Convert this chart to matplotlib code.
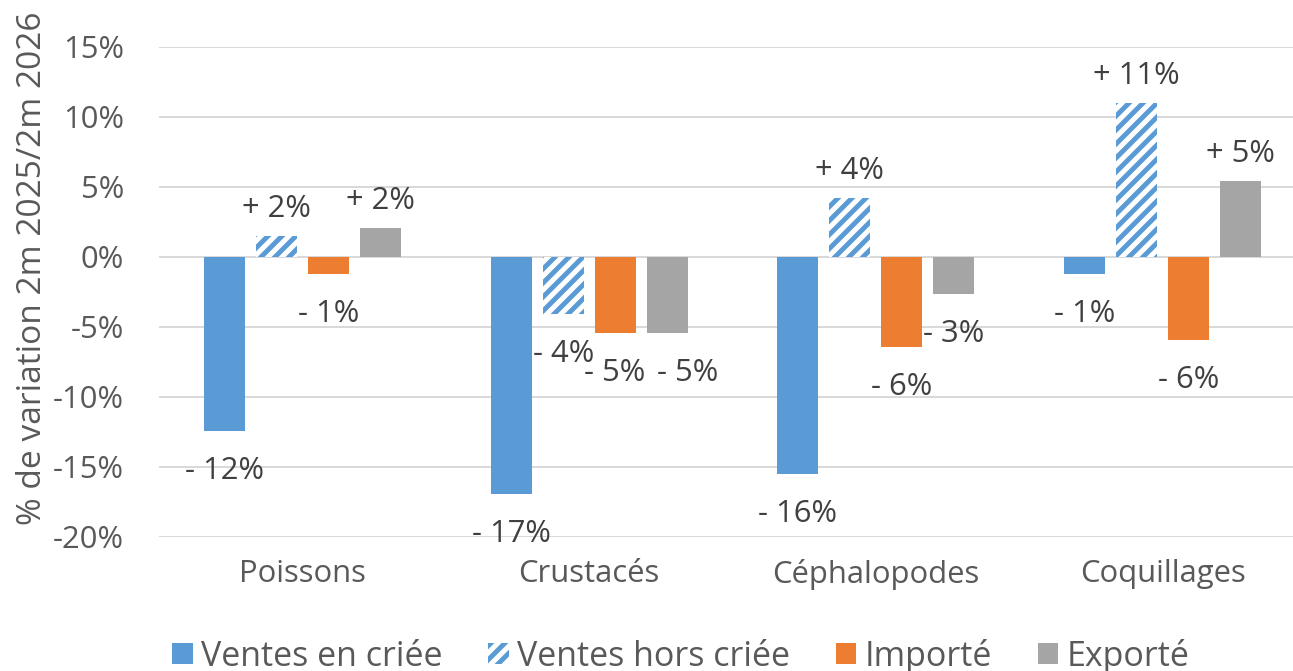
import matplotlib
matplotlib.use("Agg")
import matplotlib.pyplot as plt
from matplotlib.patches import Patch
import numpy as np

categories = ["Poissons", "Crustacés", "Céphalopodes", "Coquillages"]
series_names = ["Ventes en criée", "Ventes hors criée", "Importé", "Exporté"]
ventes_criee = [-12.4, -16.9, -15.5, -1.24]
ventes_hors_criee = [1.52, -4.07, 4.19, 10.98]
importe = [-1.24, -5.4, -6.45, -5.93]
exporte = [2.05, -5.45, -2.64, 5.45]
yticks = [-20, -15, -10, -5, 0, 5, 10, 15]
ylabel = "% de variation 2m 2025/2m 2026"

DPI = 84
W, H = 1293, 671
plt.rcParams['font.family'] = ['Open Sans', 'DejaVu Sans']
plt.rcParams['hatch.linewidth'] = 4.2

def px(v):
    return v * 72.0 / DPI

FS = px(31)
TXT = "#595959"
LBL = "#404040"
BLUE = "#5B9BD5"
ORANGE = "#ED7D31"
GREY = "#A5A5A5"

fig = plt.figure(figsize=(W / DPI, H / DPI), dpi=DPI)
ax = fig.add_axes([159 / W, 1 - 537 / H, (1306 - 159) / W, (537 - 47) / H])

x = np.arange(len(categories))
bw = 41 / 287
step = 52 / 287
data = [ventes_criee, ventes_hors_criee, importe, exporte]
styles = [
    dict(color=BLUE, linewidth=0),
    dict(facecolor="white", edgecolor=BLUE, hatch="//", linewidth=0),
    dict(color=ORANGE, linewidth=0),
    dict(color=GREY, linewidth=0),
]
# extra horizontal shift (px) for overlapping labels
label_dx = {(3, 1): 21}

for i, (vals, st) in enumerate(zip(data, styles)):
    pos = x + (i - 1.5) * step
    ax.bar(pos, vals, bw, zorder=3, **st)
    for j, (p, v) in enumerate(zip(pos, vals)):
        sign = "+" if v >= 0 else "-"
        txt = f"{sign} {abs(v):.0f}%"
        dy = 19 if v >= 0 else -48
        dx = label_dx.get((i, j), 0)
        ax.annotate(txt, (p, v), xytext=(dx, dy), textcoords="offset pixels",
                    ha="center", va="baseline", fontsize=FS, color=LBL, zorder=5)

ax.set_xlim(-0.5, len(categories) - 0.5)
ax.set_ylim(-20, 15)
ax.set_yticks(yticks)
ax.set_yticklabels([f"{t}%" for t in yticks])
ax.set_xticks(x)
ax.set_xticklabels(categories)
ax.tick_params(axis="y", length=0, pad=px(35), labelsize=FS, labelcolor=TXT)
ax.tick_params(axis="x", length=0, pad=px(22), labelsize=FS, labelcolor=TXT)
ax.grid(axis="y", color="#D9D9D9", linewidth=px(2), zorder=0)
ax.set_axisbelow(True)
for s in ax.spines.values():
    s.set_visible(False)

fig.text(33 / W, 1 - 268 / H, ylabel, rotation=90, ha="center", va="center",
         fontsize=px(33.5), color=TXT)

handles = [Patch(**st) for st in styles]
leg = fig.legend(handles, series_names, loc="center", bbox_to_anchor=(681 / W, 1 - 656 / H),
                 ncol=4, frameon=False, fontsize=px(34), handlelength=0.6, handleheight=0.6,
                 handletextpad=0.25, columnspacing=1.34, borderpad=0, borderaxespad=0)
for t in leg.get_texts():
    t.set_color(TXT)

fig.savefig("out.png", dpi=DPI)
